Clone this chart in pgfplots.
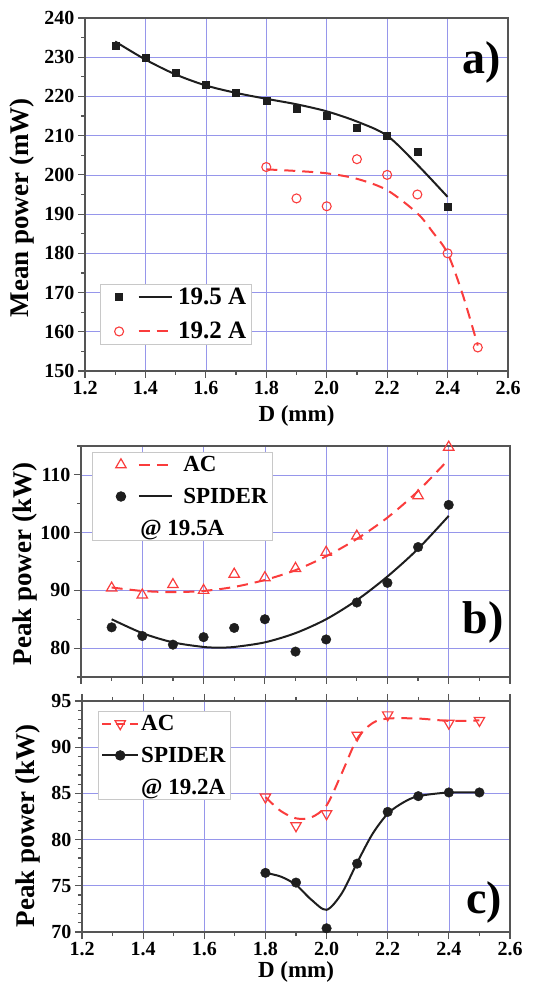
\documentclass[border=0pt]{standalone}
\usepackage{fontspec}
\setmainfont{Liberation Serif}
\usepackage{pgfplots}
\pgfplotsset{compat=1.18}

\definecolor{gridblue}{RGB}{150,150,235}
\definecolor{framegray}{RGB}{85,85,85}
\definecolor{fitred}{RGB}{250,60,60}
\definecolor{dotblack}{RGB}{30,30,30}
\definecolor{legframe}{RGB}{200,200,200}

\pgfplotsset{
  panel/.style={
    scale only axis,
    xmin=1.2, xmax=2.6,
    xtick={1.2,1.4,1.6,1.8,2.0,2.2,2.4,2.6},
    minor xtick={1.3,1.5,1.7,1.9,2.1,2.3,2.5},
    x tick label style={/pgf/number format/.cd, fixed, fixed zerofill, precision=1, /tikz/.cd},
    /pgf/number format/assume math mode=true,
    tick label style={font=\fontsize{20}{20}\selectfont\bfseries},
    xlabel style={font=\fontsize{23}{23}\selectfont\bfseries},
    ylabel style={font=\fontsize{27}{27}\selectfont\bfseries},
    grid=major,
    major grid style={gridblue, line width=0.7pt},
    axis line style={framegray, line width=1.4pt},
    every tick/.style={framegray, line width=1.2pt},
    tick align=outside,
    major tick length=7pt,
    minor tick length=4pt,
    xtick pos=left,
    ytick pos=left,
    legend cell align=left,
    legend style={draw=legframe, line width=0.8pt, fill=white},
  },
  fitblack/.style={smooth, dotblack, line width=2pt, forget plot},
  fitdash/.style={smooth, fitred, line width=2pt, dash pattern=on 11pt off 7pt, forget plot},
}

\begin{document}
\begin{tikzpicture}
\path[use as bounding box] (0pt,0pt) rectangle (534pt,986pt);

% ---------------- a) mean power
\begin{axis}[panel, at={(85pt,615pt)}, anchor=south west, width=423pt, height=353pt,
  ymin=150, ymax=240, ytick={150,160,...,240}, minor ytick={155,165,...,235},
  xlabel={D (mm)}, ylabel={Mean power (mW)},
  xlabel style={at={(axis description cs:0.5,0)}, anchor=center, yshift=-45pt},
  ylabel style={at={(axis description cs:-0.148,0.462)}, anchor=center},
  legend style={at={(0.035,0.074)}, anchor=south west, row sep=12pt,
    font=\fontsize{25}{28}\selectfont\bfseries},
]
\addplot[only marks, mark=square*, mark size=3.5pt, dotblack, forget plot] coordinates {
  (1.3,233) (1.4,230) (1.5,226) (1.6,223) (1.7,221) (1.8,219) (1.9,217) (2.0,215)
  (2.1,212) (2.2,210) (2.3,206) (2.4,192)};
\addplot[fitblack] coordinates {
  (1.3,234.0) (1.4,229.4) (1.5,225.6) (1.6,222.8) (1.7,220.9) (1.8,219.4) (1.9,218.0)
  (2.0,216.2) (2.1,213.6) (2.2,210.0) (2.3,202.6) (2.4,194.4)};
\addplot[only marks, mark=o, mark size=4.5pt, fitred, line width=1.1pt, forget plot] coordinates {
  (1.8,202) (1.9,194) (2.0,192) (2.1,204) (2.2,200) (2.3,195) (2.4,180) (2.5,156)};
\addplot[fitdash] coordinates {
  (1.8,201.4) (1.9,201.0) (2.0,200.4) (2.1,199.0) (2.2,196.1) (2.3,190.2) (2.35,185.5)
  (2.4,180.0) (2.45,169.5) (2.5,156.5)};
\addlegendimage{legend image code/.code={
  \path (0pt,0pt) (72pt,0pt);
  \draw[dotblack, line width=2pt] (35pt,0pt) -- (68pt,0pt);
  \fill[dotblack] (12pt,-3.5pt) rectangle (19pt,3.5pt);}}
\addlegendentry{19.5 A}
\addlegendimage{legend image code/.code={
  \path (0pt,0pt) (72pt,0pt);
  \draw[fitred, line width=2pt, dash pattern=on 11pt off 7pt] (35pt,0pt) -- (68pt,0pt);
  \draw[fitred, line width=1.1pt] (15.5pt,0pt) circle (4.5pt);}}
\addlegendentry{19.2 A}
\node[font=\fontsize{46}{46}\selectfont\bfseries] at (rel axis cs:0.938,0.875) {a)};
\end{axis}

% ---------------- b) peak power at 19.5 A
\begin{axis}[panel, at={(81pt,309pt)}, anchor=south west, width=429pt, height=231pt,
  ymin=75, ymax=115, ytick={80,90,100,110}, minor ytick={75,85,95,105,115},
  xticklabels={},
  ylabel={Peak power (kW)},
  ylabel style={at={(axis description cs:-0.131,0.489)}, anchor=center},
  legend style={at={(0.026,0.974)}, anchor=north west, row sep=11pt,
    font=\fontsize{23}{26}\selectfont\bfseries},
]
\addplot[only marks, mark=triangle, mark size=6pt, fitred, line width=1.2pt, forget plot] coordinates {
  (1.3,90.4) (1.4,89.2) (1.5,91.0) (1.6,90.0) (1.7,92.8) (1.8,92.2) (1.9,93.8)
  (2.0,96.6) (2.1,99.4) (2.3,106.4) (2.4,114.8)};
\addplot[fitdash] coordinates {
  (1.3,90.5) (1.4,89.9) (1.5,89.7) (1.6,89.9) (1.7,90.6) (1.8,91.8) (1.9,93.5)
  (2.0,95.9) (2.1,98.9) (2.2,102.6) (2.3,107.2) (2.4,112.7)};
\addplot[only marks, mark=*, mark size=4.8pt, dotblack, forget plot] coordinates {
  (1.3,83.6) (1.4,82.1) (1.5,80.6) (1.6,81.9) (1.7,83.5) (1.8,85.0) (1.9,79.4)
  (2.0,81.5) (2.1,87.9) (2.2,91.3) (2.3,97.5) (2.4,104.8)};
\addplot[fitblack] coordinates {
  (1.3,85.0) (1.4,82.6) (1.5,81.0) (1.6,80.2) (1.65,80.1) (1.7,80.2) (1.8,81.0)
  (1.9,82.6) (2.0,85.0) (2.1,88.3) (2.2,92.4) (2.3,97.2) (2.4,102.9)};
\addlegendimage{legend image code/.code={
  \path (0pt,0pt) (85pt,0pt);
  \draw[fitred, line width=2pt, dash pattern=on 11pt off 7pt] (43pt,0pt) -- (76pt,0pt);
  \draw[fitred, line width=1.2pt] plot[mark=triangle, mark size=6pt] coordinates {(25pt,0pt)};}}
\addlegendentry{AC}
\addlegendimage{legend image code/.code={
  \path (0pt,0pt) (85pt,0pt);
  \draw[dotblack, line width=2pt] (43pt,0pt) -- (76pt,0pt);
  \fill[dotblack] (25pt,0pt) circle (4.8pt);}}
\addlegendentry{SPIDER}
\addlegendimage{empty legend}
\addlegendentry{\hspace*{-43pt}@ 19.5A}
\node[font=\fontsize{46}{46}\selectfont\bfseries] at (rel axis cs:0.937,0.238) {b)};
\end{axis}

% ---------------- c) peak power at 19.2 A
\begin{axis}[panel, at={(82pt,54pt)}, anchor=south west, width=428pt, height=231pt,
  ymin=70, ymax=95, ytick={70,75,...,95}, minor y tick num=4,
  xtick pos=both,
  xlabel={D (mm)}, ylabel={Peak power (kW)},
  xlabel style={at={(axis description cs:0.5,0)}, anchor=center, yshift=-40pt},
  ylabel style={at={(axis description cs:-0.126,0.459)}, anchor=center},
  legend style={at={(0.037,0.957)}, anchor=north west, row sep=11pt,
    font=\fontsize{23}{26}\selectfont\bfseries},
]
\addplot[only marks, mark=triangle, mark options={rotate=180}, mark size=6pt, fitred, line width=1.2pt, forget plot] coordinates {
  (1.8,84.6) (1.9,81.5) (2.0,82.8) (2.1,91.3) (2.2,93.5) (2.4,92.6) (2.5,92.9)};
\addplot[fitdash] coordinates {
  (1.8,84.6) (1.85,83.1) (1.9,82.3) (1.95,82.4) (2.0,83.7) (2.05,87.2) (2.1,90.9)
  (2.15,92.6) (2.2,93.1) (2.3,93.1) (2.4,92.85) (2.5,92.9)};
\addplot[only marks, mark=*, mark size=4.8pt, dotblack, forget plot] coordinates {
  (1.8,76.4) (1.9,75.35) (2.0,70.4) (2.1,77.4) (2.2,83.0) (2.3,84.7) (2.4,85.1) (2.5,85.1)};
\addplot[fitblack] coordinates {
  (1.8,76.4) (1.85,76.0) (1.9,75.1) (1.95,73.5) (2.0,72.4) (2.05,74.2) (2.1,77.5)
  (2.15,80.6) (2.2,82.8) (2.25,84.0) (2.3,84.7) (2.4,85.1) (2.5,85.1)};
\addlegendimage{legend image code/.code={
  \draw[fitred, line width=2pt, dash pattern=on 9pt off 5pt] (0pt,0pt) -- (36pt,0pt);
  \draw[fitred, line width=1.2pt, fill=white] plot[mark=triangle, mark size=6pt, mark options={rotate=180}] coordinates {(18pt,0pt)};}}
\addlegendentry{AC}
\addlegendimage{legend image code/.code={
  \draw[dotblack, line width=2pt] (0pt,0pt) -- (36pt,0pt);
  \fill[dotblack] (18pt,0pt) circle (4.8pt);}}
\addlegendentry{SPIDER}
\addlegendimage{empty legend}
\addlegendentry{@ 19.2A}
\node[font=\fontsize{46}{46}\selectfont\bfseries] at (rel axis cs:0.94,0.126) {c)};
\end{axis}
\end{tikzpicture}
\end{document}
